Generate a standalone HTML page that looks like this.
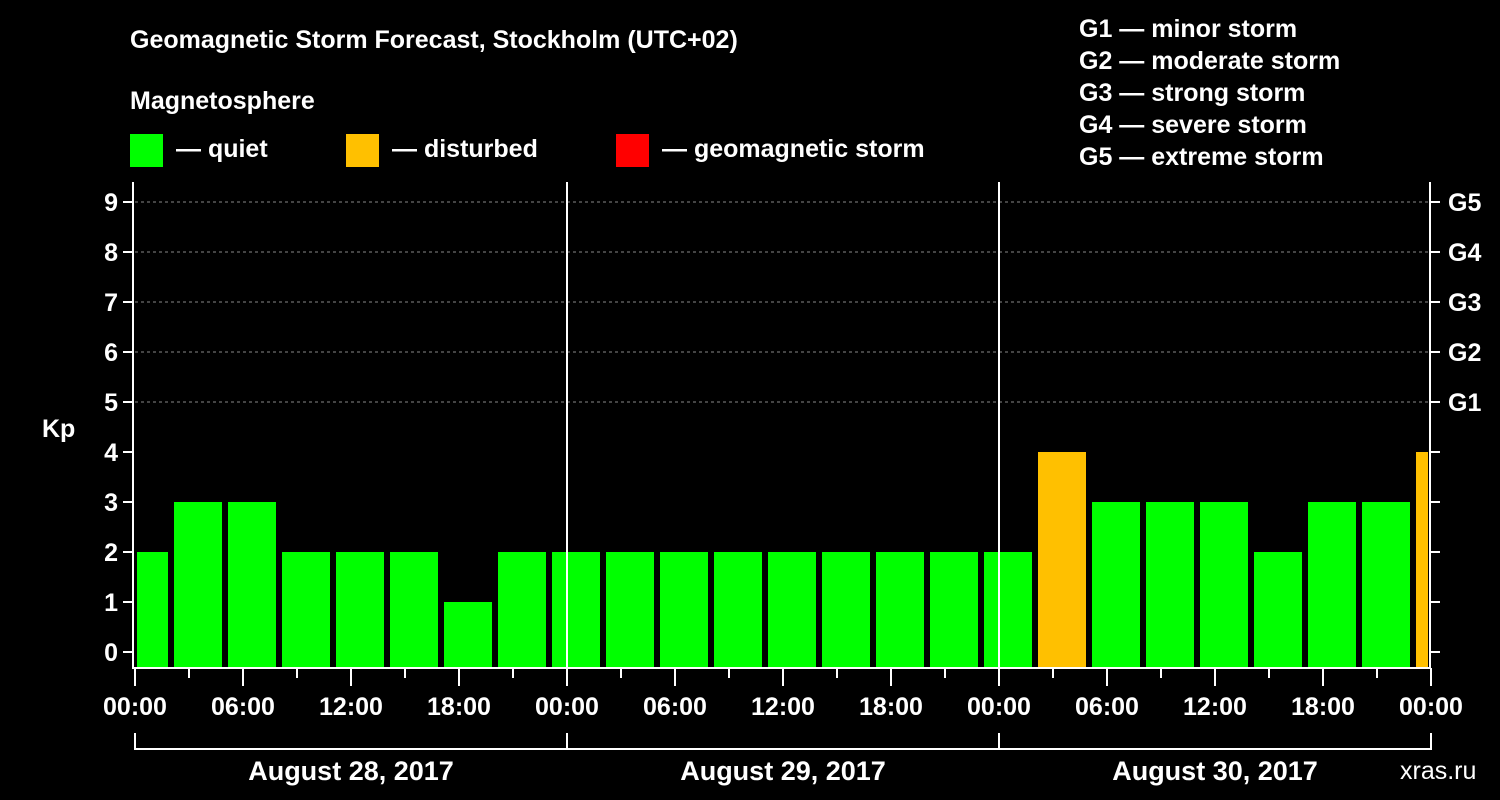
<!DOCTYPE html>
<html><head><meta charset="utf-8"><style>
body{margin:0;background:#000;}
svg{display:block;font-family:"Liberation Sans",Arial,sans-serif;font-weight:bold;}
</style></head><body>
<svg width="1500" height="800" viewBox="0 0 1500 800">
<rect width="1500" height="800" fill="#000"/>
<text x="130" y="48" fill="#fff" font-size="25">Geomagnetic Storm Forecast, Stockholm (UTC+02)</text>
<text x="130" y="109" fill="#fff" font-size="25">Magnetosphere</text>
<g>
<rect x="130" y="134" width="33" height="33" fill="#00ff00"/>
<text x="176" y="157" fill="#fff" font-size="25">— quiet</text>
<rect x="346" y="134" width="33" height="33" fill="#ffc000"/>
<text x="392" y="157" fill="#fff" font-size="25">— disturbed</text>
<rect x="616" y="134" width="33" height="33" fill="#ff0000"/>
<text x="662" y="157" fill="#fff" font-size="25">— geomagnetic storm</text>
</g>
<g fill="#fff" font-size="25">
<text x="1079" y="37">G1 — minor storm</text>
<text x="1079" y="69">G2 — moderate storm</text>
<text x="1079" y="101">G3 — strong storm</text>
<text x="1079" y="133">G4 — severe storm</text>
<text x="1079" y="165">G5 — extreme storm</text>
</g>
<text x="42" y="437" fill="#fff" font-size="25">Kp</text>
<text x="1400" y="779" fill="#fff" font-size="25" font-weight="normal">xras.ru</text>
<g id="chart"></g>
</svg>
<script>
const kpValues=[2,3,3,2,2,2,1,2,2,2,2,2,2,2,2,2,2,4,3,3,3,2,3,3,4];
const kpTicks=[0,1,2,3,4,5,6,7,8,9];
const gLabels=["G1","G2","G3","G4","G5"];
const timeLabels=["00:00","06:00","12:00","18:00"];
const dayLabels=["August 28, 2017","August 29, 2017","August 30, 2017"];
const firstBarStartHour=-1;
const NS="http://www.w3.org/2000/svg";
const g=document.getElementById('chart');
const X0=135,PXH=18,Y0=652,PXK=50,TOP=182,BOT=668,XR=1430;
const xs=h=>X0+h*PXH, ys=k=>Y0-k*PXK;
function el(t,a,p){const e=document.createElementNS(NS,t);for(const k in a)e.setAttribute(k,a[k]);(p||g).appendChild(e);return e;}
// grid
for(let k=5;k<=9;k++){const l=el('line',{x1:X0,x2:XR,y1:ys(k),y2:ys(k),stroke:'#888','stroke-dasharray':'3,3','stroke-width':1});

}
// bars
kpValues.forEach((v,i)=>{let a=xs(firstBarStartHour+3*i)+3,b=xs(firstBarStartHour+3*i+3)-3;
a=Math.max(a,X0+2);b=Math.min(b,XR-2);
const r=el('rect',{x:a,y:ys(v),width:b-a,height:BOT-ys(v),fill:v>=5?'#ff0000':(v>=4?'#ffc000':'#00ff00')});

});
// axes
const ax=el('path',{d:`M${X0-2},${TOP}V${BOT}H${XR}V${TOP}`,stroke:'#fff','stroke-width':2,fill:'none'});


for(let d=1;d<3;d++){const l=el('line',{x1:xs(24*d),x2:xs(24*d),y1:TOP,y2:BOT,stroke:'#fff','stroke-width':2});

}
kpTicks.forEach(k=>{el('line',{x1:X0-12,x2:X0-2,y1:ys(k),y2:ys(k),stroke:'#fff','stroke-width':2});
el('line',{x1:XR,x2:XR+10,y1:ys(k),y2:ys(k),stroke:'#fff','stroke-width':2});
const t=el('text',{x:X0-17,y:ys(k)+9,fill:'#fff','font-size':25,'text-anchor':'end'});t.textContent=k;

});
gLabels.forEach((s,i)=>{const t=el('text',{x:1448,y:ys(5+i)+9,fill:'#fff','font-size':25});t.textContent=s;

});
for(let h=0;h<=72;h+=3){const major=h%6===0;el('line',{x1:xs(h),x2:xs(h),y1:BOT,y2:BOT+(major?18:10),stroke:'#fff','stroke-width':2});
if(major&&h%6===0){const lab=timeLabels[(h%24)/6];const t=el('text',{x:xs(h),y:715,fill:'#fff','font-size':25,'text-anchor':'middle'});t.textContent=lab;

}}
const br=el('line',{x1:X0,x2:XR,y1:749,y2:749,stroke:'#fff','stroke-width':2});


for(let d=0;d<=3;d++)el('line',{x1:xs(24*d),x2:xs(24*d),y1:733,y2:750,stroke:'#fff','stroke-width':2});
dayLabels.forEach((s,d)=>{const t=el('text',{x:xs(24*d+12),y:780,fill:'#fff','font-size':27,'text-anchor':'middle'});t.textContent=s;

});
</script>
</body></html>
